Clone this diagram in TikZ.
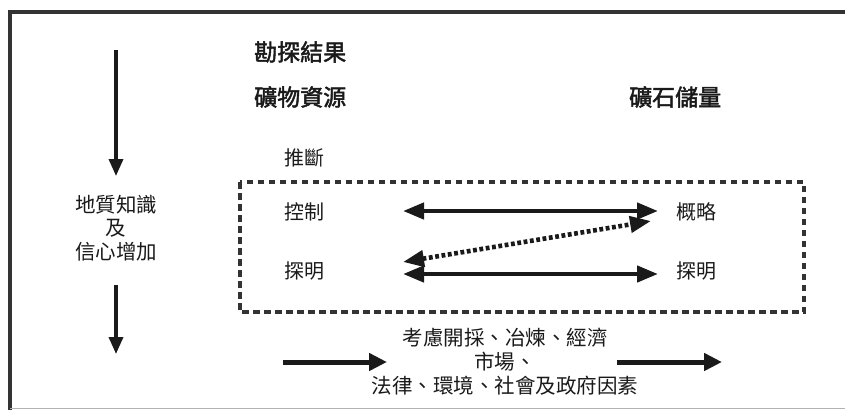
\documentclass[tikz,border=0pt]{standalone}
\usepackage{fontspec}
\newfontfamily\cjk{Noto Sans CJK TC}
\newfontfamily\cjkb[FakeBold=2]{Noto Sans CJK TC}
\usetikzlibrary{arrows.meta}
\definecolor{ink}{HTML}{1A1A1A}
\definecolor{framec}{HTML}{333333}
\begin{document}
\begin{tikzpicture}[x=1pt,y=-1pt,
  txt/.style={inner sep=0pt, font=\cjk\fontsize{20}{23}\selectfont, text=ink},
  title/.style={inner sep=0pt, font=\cjkb\fontsize{23}{26}\selectfont, text=ink},
  varrow/.style={line width=3.4pt, draw=ink, -{Triangle[length=17pt,width=14pt]}},
  harrow/.style={line width=4.4pt, draw=ink, {Triangle[length=21pt,width=16pt]}-{Triangle[length=21pt,width=16pt]}},
  darrow/.style={line width=4.6pt, draw=ink, dash pattern=on 3.8pt off 2.6pt, {Triangle[length=21pt,width=16pt]}-{Triangle[length=21pt,width=16pt]}},
  farrow/.style={line width=5pt, draw=ink, -{Triangle[length=18pt,width=17pt]}},
  dashbox/.style={line width=3.2pt, draw=framec, dash pattern=on 6.5pt off 4.5pt}
]
\useasboundingbox (0,0) rectangle (845,410);
\fill[white] (0,0) rectangle (845,410);
% frame
\draw[line width=4pt, draw=framec] (845,12) -- (10,12) -- (10,410);
\draw[line width=1.2pt, draw=black!30] (10,408.6) -- (845,408.6);
% titles
\node[title, anchor=west] (t1) at (254,52) {勘探結果};
\node[title, anchor=west] (t2) at (254,97) {礦物資源};
\node[title, anchor=west] (t3) at (629,97) {礦石儲量};
% categories
\node[txt, anchor=west] (inf) at (284,158) {推斷};
\node[txt, anchor=west] (ind) at (284,212) {控制};
\node[txt, anchor=west] (mea) at (284,271) {探明};
\node[txt, anchor=west] (prob) at (676,212) {概略};
\node[txt, anchor=west] (prov) at (676,271) {探明};
% left text
\node[txt, align=center, font=\cjk\fontsize{20.5}{23.5}\selectfont] (geo) at (116,228) {地質知識\\及\\信心增加};
% bottom text
\node[txt, align=center, font=\cjk\fontsize{20.5}{24}\selectfont] (fac) at (505,362) {考慮開採、冶煉、經濟\\市場、\\法律、環境、社會及政府因素};
% dashed box
\coordinate (b1) at (240,182);
\coordinate (b2) at (804,312);
\draw[dashbox] (b1) rectangle (b2);
% vertical arrows
\coordinate (v1s) at (116,50);
\coordinate (v1e) at (116,176);
\coordinate (v2s) at (116,285);
\coordinate (v2e) at (116,354);
\draw[varrow] (v1s) -- (v1e);
\draw[varrow] (v2s) -- (v2e);
% horizontal double arrows
\coordinate (a1l) at (403,211);
\coordinate (a1r) at (658,211);
\coordinate (a2l) at (403,274);
\coordinate (a2r) at (658,274);
\coordinate (dl) at (403,262);
\coordinate (dr) at (651,221);
\draw[harrow] (a1l) -- (a1r);
\draw[harrow] (a2l) -- (a2r);
\draw[darrow] (dl) -- (dr);
% bottom arrows
\coordinate (f1s) at (283,362);
\coordinate (f1e) at (387,362);
\coordinate (f2s) at (617,362);
\coordinate (f2e) at (722,362);
\draw[farrow] (f1s) -- (f1e);
\draw[farrow] (f2s) -- (f2e);
\end{tikzpicture}
\end{document}
